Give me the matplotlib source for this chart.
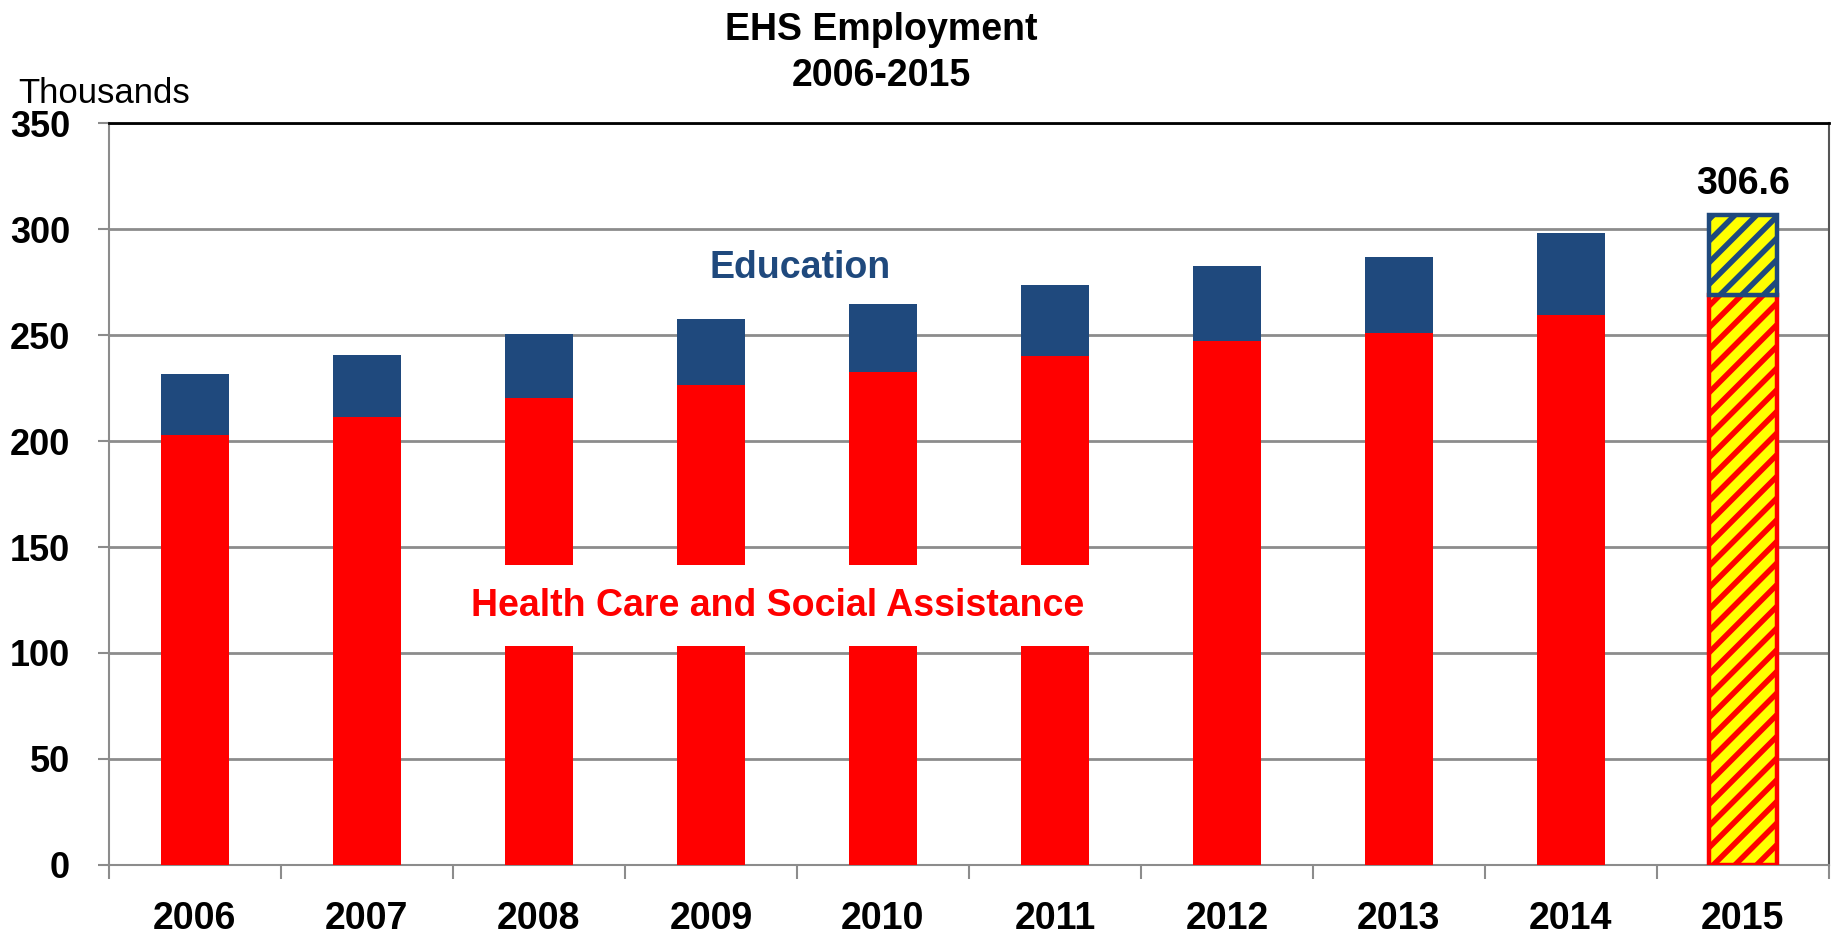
import numpy as np
import matplotlib
matplotlib.use("Agg")
import matplotlib.pyplot as plt

plt.rcParams['font.family'] = ['Liberation Sans Narrow', 'Liberation Sans', 'DejaVu Sans']

# data (thousands)
years = ['2006', '2007', '2008', '2009', '2010', '2011', '2012', '2013', '2014', '2015']
health = [203.0, 211.3, 220.3, 226.4, 232.5, 240.1, 247.3, 250.9, 259.6, 269.0]
education = [28.4, 29.4, 30.3, 31.1, 32.3, 33.6, 35.4, 35.9, 38.7, 37.6]
total_2015 = 306.6

RED = '#FF0000'
BLUE = '#1F497D'
YELLOW = '#FFFF00'
GRID = '#8C8C8C'

# dpi 130 gives the hatch spacing of the original; sizes below are scaled
DPI = 130
k = 100 / DPI
plt.rcParams['hatch.linewidth'] = 4.0 * k

fig = plt.figure(figsize=(1837 / DPI, 935 / DPI), dpi=DPI)
ax = fig.add_axes([0.0593, 0.0749, 0.9363, 0.7935])

x = np.arange(len(years))
w = 0.40

# plain bars for all but the last year
ax.bar(x[:-1], health[:-1], width=w, color=RED, edgecolor='none', zorder=3)
ax.bar(x[:-1], education[:-1], width=w, bottom=health[:-1], color=BLUE,
       edgecolor='none', zorder=3)

# hatched forecast bar
ax.bar(x[-1], health[-1], width=w, color=YELLOW, edgecolor=RED, hatch='//',
       linewidth=3.2 * k, zorder=3)
ax.bar(x[-1], education[-1], width=w, bottom=health[-1], color=YELLOW,
       edgecolor=BLUE, hatch='//', linewidth=3.2 * k, zorder=3)

ax.text(x[-1], total_2015 + 6, f'{total_2015:.1f}', ha='center', va='bottom',
        fontsize=27 * k, fontweight='bold', color='black', zorder=5)

# series labels
ax.text(3.52, 281.7, 'Education', ha='center', va='center', fontsize=27 * k,
        fontweight='bold', color=BLUE, zorder=5)
ax.text(3.39, 122.4, 'Health Care and Social Assistance', ha='center',
        va='center', fontsize=27 * k, fontweight='bold', color=RED, zorder=5,
        bbox=dict(boxstyle='square,pad=0.6', facecolor='white', edgecolor='none'))

ax.set_xlim(-0.5, len(years) - 0.5)
ax.set_ylim(0, 350)
ax.set_yticks(np.arange(0, 351, 50))
ax.yaxis.grid(True, color=GRID, linewidth=2 * k, zorder=0)
ax.set_axisbelow(True)

ax.set_xticks(x)
ax.set_xticklabels(years)
ax.set_xticks(np.arange(-0.5, len(years), 1), minor=True)
ax.tick_params(axis='x', which='major', length=0, pad=26 * k, labelsize=27 * k)
ax.tick_params(axis='x', which='minor', length=10 * k, width=1.5 * k, color=GRID)
ax.tick_params(axis='y', length=8 * k, width=1.5 * k, color=GRID, pad=20 * k,
               labelsize=26 * k)
for lab in ax.get_xticklabels() + ax.get_yticklabels():
    lab.set_fontweight('bold')

for side in ['left', 'bottom']:
    ax.spines[side].set_color(GRID)
    ax.spines[side].set_linewidth(1.5 * k)
ax.spines['top'].set_color('black')
ax.spines['top'].set_linewidth(2 * k)
ax.spines['right'].set_color('#555555')
ax.spines['right'].set_linewidth(1.5 * k)

fig.text(0.4796, 0.968, 'EHS Employment', ha='center', va='center',
         fontsize=27 * k, fontweight='bold')
fig.text(0.4796, 0.919, '2006-2015', ha='center', va='center',
         fontsize=27 * k, fontweight='bold')
fig.text(0.010, 0.900, 'Thousands', ha='left', va='center', fontsize=25 * k)

fig.savefig('out.png', dpi=DPI)
